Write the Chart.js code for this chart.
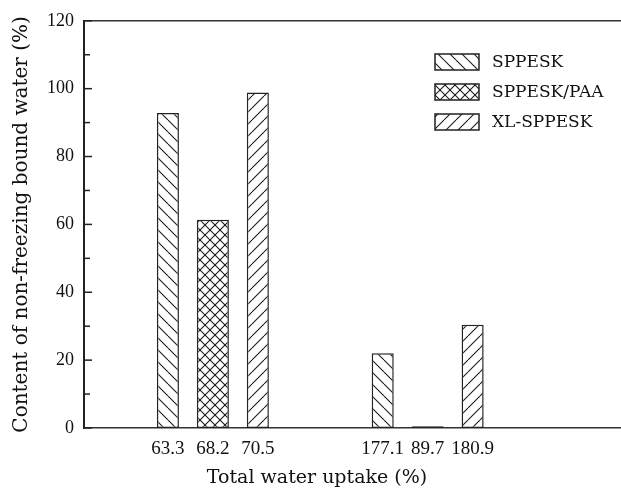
<!DOCTYPE html>
<html><head><meta charset="utf-8">
<script src="https://cdn.jsdelivr.net/npm/chart.js@4.4.1/dist/chart.umd.min.js"></script>
<style>html,body{margin:0;padding:0;background:#fff;overflow:hidden}</style>
</head><body><canvas id="c" width="621" height="492"></canvas>
<script>
// ---- data ----
const groups = [1, 2];
const seriesNames = ['SPPESK', 'SPPESK/PAA', 'XL-SPPESK'];
const sppeskBound = [92.8, 22.0];
const paaBound = [61.4, 0.5];
const xlBound = [98.9, 30.4];
const sppeskUptake = ['63.3', '177.1'];
const paaUptake = ['68.2', '89.7'];
const xlUptake = ['70.5', '180.9'];
const xTitle = 'Total water uptake (%)';
const yTitle = 'Content of non-freezing bound water (%)';

const canvas = document.getElementById('c');
const mainCtx = canvas.getContext('2d');

function hatch(kind) {
  const s = kind === 'cross' ? 10 : 12;
  const c = document.createElement('canvas'); c.width = s; c.height = s;
  const g = c.getContext('2d');
  g.fillStyle = '#fff'; g.fillRect(0, 0, s, s);
  g.strokeStyle = '#1a1a1a'; g.lineWidth = 1.1;
  const back = () => { for (let k = -1; k <= 1; k++) { g.beginPath(); g.moveTo(k * s, 0); g.lineTo(k * s + s, s); g.stroke(); } };
  const fwd = () => { for (let k = -1; k <= 1; k++) { g.beginPath(); g.moveTo(k * s, s); g.lineTo(k * s + s, 0); g.stroke(); } };
  if (kind === 'back' || kind === 'cross') back();
  if (kind === 'fwd' || kind === 'cross') fwd();
  return mainCtx.createPattern(c, 'repeat');
}

const patterns = [hatch('back'), hatch('cross'), hatch('fwd')];
const values = [sppeskBound, paaBound, xlBound];
const uptakes = [sppeskUptake, paaUptake, xlUptake];
const barPcts = [0.49, 0.712, 0.49];

const datasets = seriesNames.map((name, i) => ({
  label: name,
  data: groups.map((g, j) => ({ x: g, y: values[i][j] })),
  backgroundColor: patterns[i],
  borderColor: '#222',
  borderWidth: 1.5,
  borderSkipped: false,
  barPercentage: barPcts[i],
  categoryPercentage: 0.628,
  uptake: uptakes[i]
}));

const TXT = '#111';

const decor = {
  id: 'decor',
  afterDraw(chart) {
    const ctx = chart.ctx;
    const a = chart.chartArea;
    ctx.save();
    // top frame line
    ctx.strokeStyle = '#333'; ctx.lineWidth = 1.5;
    ctx.beginPath(); ctx.moveTo(a.left, a.top); ctx.lineTo(a.right, a.top); ctx.stroke();
    // inward y ticks
    const ys = chart.scales.y;
    ctx.strokeStyle = '#222'; ctx.lineWidth = 1.5;
    ys.ticks.forEach(t => {
      const y = ys.getPixelForValue(t.value);
      const len = t.value % 20 === 0 ? 8 : 6;
      ctx.beginPath(); ctx.moveTo(a.left, y); ctx.lineTo(a.left + len, y); ctx.stroke();
    });
    // uptake labels under each bar
    ctx.fillStyle = TXT;
    ctx.font = '19px "Liberation Serif"';
    ctx.textAlign = 'center'; ctx.textBaseline = 'middle';
    chart.data.datasets.forEach((ds, i) => {
      chart.getDatasetMeta(i).data.forEach((bar, j) => {
        ctx.fillText(ds.uptake[j], bar.x, a.bottom + 21);
      });
    });
    // x title
    ctx.font = '19px "DejaVu Serif"';
    ctx.fillText(xTitle, a.left + 233, chart.height - 14);
    // legend
    const bx = 435, bw = 44, bh = 16, ty0 = 62, dy = 30;
    chart.data.datasets.forEach((ds, i) => {
      const cy = ty0 + i * dy;
      ctx.fillStyle = ds.backgroundColor;
      ctx.fillRect(bx, cy - bh / 2, bw, bh);
      ctx.strokeStyle = '#222'; ctx.lineWidth = 1.5;
      ctx.strokeRect(bx, cy - bh / 2, bw, bh);
      ctx.fillStyle = TXT;
      ctx.font = '17px "DejaVu Serif"';
      ctx.textAlign = 'left';
      ctx.fillText(ds.label, 492, cy + 1);
    });
    ctx.restore();
  }
};

new Chart(canvas, {
  type: 'bar',
  data: { datasets },
  plugins: [decor],
  options: {
    responsive: false,
    animation: false,
    devicePixelRatio: 1,
    layout: { padding: { top: 18, right: 0, bottom: 0, left: 0 } },
    plugins: { legend: { display: false }, tooltip: { enabled: false } },
    scales: {
      x: {
        type: 'linear',
        offset: false,
        bounds: 'data',
        grace: 0,
        min: 0.4, max: 2.9,
        grid: { display: false, offset: false },
        border: { display: true, color: '#333', width: 1.5 },
        ticks: { display: false },
        afterBuildTicks: s => { s.ticks = groups.map(v => ({ value: v })); },
        afterFit: s => { s.height = 64; }
      },
      y: {
        min: 0, max: 120,
        grid: { display: false, drawTicks: false },
        border: { display: true, color: '#222', width: 2 },
        ticks: {
          stepSize: 10,
          padding: 10,
          color: TXT,
          font: { family: 'Liberation Serif', size: 18 },
          callback: v => (v % 20 === 0 ? v : '')
        },
        title: {
          display: true, text: yTitle, color: TXT,
          font: { family: 'DejaVu Serif', size: 20 },
          padding: { top: 10, bottom: 0 }
        },
        afterFit: s => { s.width = 84; }
      }
    }
  }
});
</script>
</body></html>
